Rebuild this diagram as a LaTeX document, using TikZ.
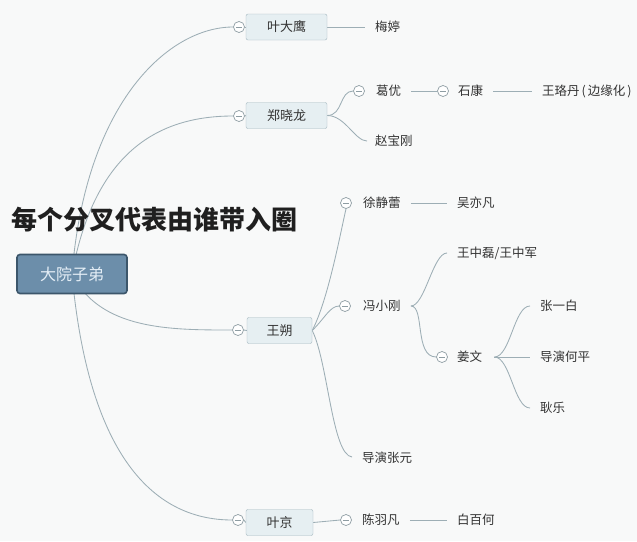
\documentclass[tikz,border=0pt]{standalone}
\usepackage{fontspec}
\setmainfont{Noto Sans CJK SC}
\usetikzlibrary{backgrounds}
\definecolor{bgc}{HTML}{F8F9F9}
\definecolor{linkc}{HTML}{9DAEB5}
\definecolor{boxfill}{HTML}{E6EFF2}
\definecolor{boxdraw}{HTML}{A3B7BF}
\definecolor{rootfill}{HTML}{6C8EAA}
\definecolor{rootdraw}{HTML}{3C566B}
\definecolor{roottext}{HTML}{E4EEF6}
\definecolor{txt}{HTML}{333333}
\definecolor{foldc}{HTML}{8E9DA3}
\begin{document}
\begin{tikzpicture}[x=1pt,y=-1pt,
 topic/.style={draw=boxdraw, fill=boxfill, rounded corners=2pt, minimum height=26pt, inner sep=0pt, font=\fontsize{13}{15}\selectfont, text=txt},
 leaf/.style={anchor=west, inner sep=0pt, font=\fontsize{12.5}{14}\selectfont, text=txt},
 fold/.style={circle, draw=foldc, fill=white, line width=0.7pt, minimum size=11pt, inner sep=0pt,
   path picture={\draw[foldc, line width=0.7pt] ([xshift=2.3pt]path picture bounding box.west) -- ([xshift=-2.3pt]path picture bounding box.east);}},
 link/.style={draw=linkc, line width=0.85pt}
 ]
\useasboundingbox (0,0) rectangle (637,541);
\begin{pgfonlayer}{background}
\fill[bgc] (0,0) rectangle (637,541);
\end{pgfonlayer}

% root and title
\node[draw=rootdraw, line width=1.6pt, fill=rootfill, rounded corners=3pt, minimum width=110pt, minimum height=39pt, text=roottext, font=\fontsize{16}{18}\selectfont] (root) at (72,274) {大院子弟};
\node[anchor=west, inner sep=0pt, font=\fontsize{26}{30}\selectfont\bfseries, text=black!88] (title) at (11,220) {每个分叉代表由谁带入圈};

% main topics
\node[topic, minimum width=81pt] (yedy) at (286.5,27) {叶大鹰};
\node[fold] (fyedy) at (239,27) {};
\node[topic, minimum width=81pt] (zxl) at (286.5,115.5) {郑晓龙};
\node[fold] (fzxl) at (239,116) {};
\node[topic, minimum width=65pt] (ws) at (279.5,330.5) {王朔};
\node[fold] (fws) at (238,330) {};
\node[topic, minimum width=67pt] (yj) at (279.5,522.5) {叶京};
\node[fold] (fyj) at (238,520) {};

% subtopics
\node[leaf] (mt) at (375,27) {梅婷};
\node[fold] (fgy) at (359,91) {};
\node[leaf] (gy) at (376,91) {葛优};
\node[fold] (fsk) at (443,91) {};
\node[leaf] (sk) at (458,91) {石康};
\node[leaf] (wld) at (542,91) {王珞丹\hspace{2pt}(\hspace{2pt}边缘化\hspace{2pt})};
\node[leaf] (zbg) at (375,141) {赵宝刚};
\node[fold] (fxjl) at (346,203) {};
\node[leaf] (xjl) at (363,203) {徐静蕾};
\node[leaf] (wyf) at (457,203) {吴亦凡};
\node[fold] (ffxg) at (345,306) {};
\node[leaf] (fxg) at (363,306) {冯小刚};
\node[leaf] (wzl) at (457,253) {王中磊/王中军};
\node[fold] (fjw) at (442,357) {};
\node[leaf] (jw) at (457,357) {姜文};
\node[leaf] (zyb) at (540,306) {张一白};
\node[leaf] (hp) at (540,357) {导演何平};
\node[leaf] (gl) at (540,408) {耿乐};
\node[leaf] (zy) at (362,458) {导演张元};
\node[fold] (fcyf) at (346,520) {};
\node[leaf] (cyf) at (362,520) {陈羽凡};
\node[leaf] (bbh) at (457,520) {白百何};

\begin{pgfonlayer}{background}
% from root
\draw[link] (root.center) .. controls (86,100) and (170,27) .. (fyedy.west);
\draw[link] (root.center) .. controls (95,150) and (160,116) .. (fzxl.west);
\draw[link] (root.center) .. controls (100,330) and (170,330) .. (fws.west);
\draw[link] (root.center) .. controls (88,450) and (150,520) .. (fyj.west);
\draw[link] (fyedy.east) -- (yedy.west);
\draw[link] (fzxl.east) -- (zxl.west);
\draw[link] (fws.east) -- (ws.west);
\draw[link] (fyj.east) -- (yj.west);
% ye daying
\draw[link, shorten >=10pt] (yedy.east) -- (mt.west);
% zheng xiaolong
\draw[link] (zxl.east) .. controls +(16,0) and +(-14,0) .. (fgy.west);
\draw[link, shorten >=8pt] (zxl.east) .. controls +(18,0) and +(-20,0) .. (zbg.west);
\draw[link, shorten <=10pt] (gy.east) -- (fsk.west);
\draw[link, shorten <=10pt, shorten >=10pt] (sk.east) -- (wld.west);
% wang shuo
\draw[link] (ws.east) .. controls (328,300) and (340,235) .. (fxjl.south);
\draw[link] (ws.east) .. controls (325,318) and (330,306) .. (ffxg.west);
\draw[link, shorten >=10pt] (ws.east) .. controls (328,362) and (332,455) .. (zy.west);
\draw[link, shorten <=10pt, shorten >=10pt] (xjl.east) -- (wyf.west);
\draw[link, shorten <=10pt, shorten >=10pt] (fxg.east) .. controls +(24,0) and +(-24,0) .. (wzl.west);
\draw[link, shorten <=10pt] (fxg.east) .. controls +(24,0) and +(-22,0) .. (fjw.west);
\draw[link, shorten <=12pt, shorten >=10pt] (jw.east) .. controls +(28,0) and +(-26,0) .. (zyb.west);
\draw[link, shorten <=12pt, shorten >=10pt] (jw.east) -- (hp.west);
\draw[link, shorten <=12pt, shorten >=10pt] (jw.east) .. controls +(28,0) and +(-26,0) .. (gl.west);
% ye jing
\draw[link] (yj.east) -- (fcyf.west);
\draw[link, shorten <=10pt, shorten >=10pt] (cyf.east) -- (bbh.west);
\end{pgfonlayer}
\end{tikzpicture}
\end{document}
